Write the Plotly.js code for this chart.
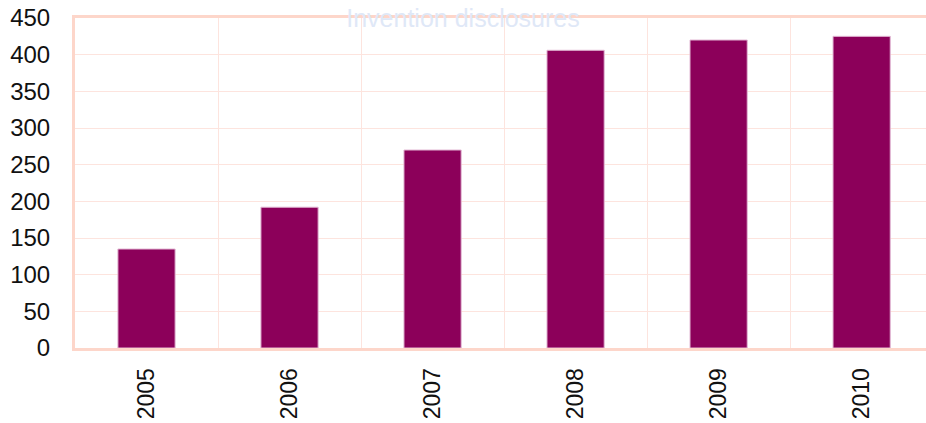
<!DOCTYPE html>
<html>
<head>
<meta charset="utf-8">
<script src="https://cdn.plot.ly/plotly-3.0.1.min.js"></script>
<style>html,body{margin:0;padding:0;background:#fff;}#chart{width:926px;height:423px;}</style>
</head>
<body>
<div id="chart"></div>
<script>
const years = ["2005", "2006", "2007", "2008", "2009", "2010"];
const disclosures = [135, 192, 270, 406, 420, 425];
const yTicks = [0, 50, 100, 150, 200, 250, 300, 350, 400, 450];
const chartTitle = "Invention disclosures";

const trace = {
  type: "bar",
  x: years,
  y: disclosures,
  marker: { color: "#8c005a", line: { color: "#e2b8d4", width: 1 } },
  hoverinfo: "x+y"
};

const layout = {
  width: 926,
  height: 423,
  margin: { l: 75, r: 0, t: 18, b: 75 },
  paper_bgcolor: "#ffffff",
  plot_bgcolor: "#ffffff",
  showlegend: false,
  bargap: 0.6,
  font: { family: "Liberation Sans, Arial, sans-serif", size: 22, color: "#111111" },
  title: {
    text: chartTitle,
    font: { family: "Liberation Sans, Arial, sans-serif", size: 25, color: "#dfe8f7" },
    x: 0.5, xref: "container", xanchor: "center",
    y: 1 - 18 / 423, yref: "container", yanchor: "middle"
  },
  xaxis: {
    type: "category",
    range: [-0.5, 5.45],
    tickson: "boundaries",
    showgrid: true,
    gridcolor: "#fde4de",
    gridwidth: 1,
    showline: true,
    linecolor: "#fdd6ca",
    linewidth: 3,
    mirror: true,
    ticks: "",
    tickangle: -90,
    tickfont: { size: 23 },
    ticklabelstandoff: 8,
    zeroline: false
  },
  yaxis: {
    range: [0, 450],
    tickvals: yTicks,
    ticktext: yTicks.map(String),
    showgrid: true,
    gridcolor: "#fde4de",
    gridwidth: 1,
    showline: true,
    linecolor: "#fdd6ca",
    linewidth: 3,
    ticks: "",
    tickfont: { size: 24 },
    ticklabelstandoff: 17,
    zeroline: false
  }
};

Plotly.newPlot("chart", [trace], layout, { displayModeBar: false, staticPlot: true });
</script>
</body>
</html>
